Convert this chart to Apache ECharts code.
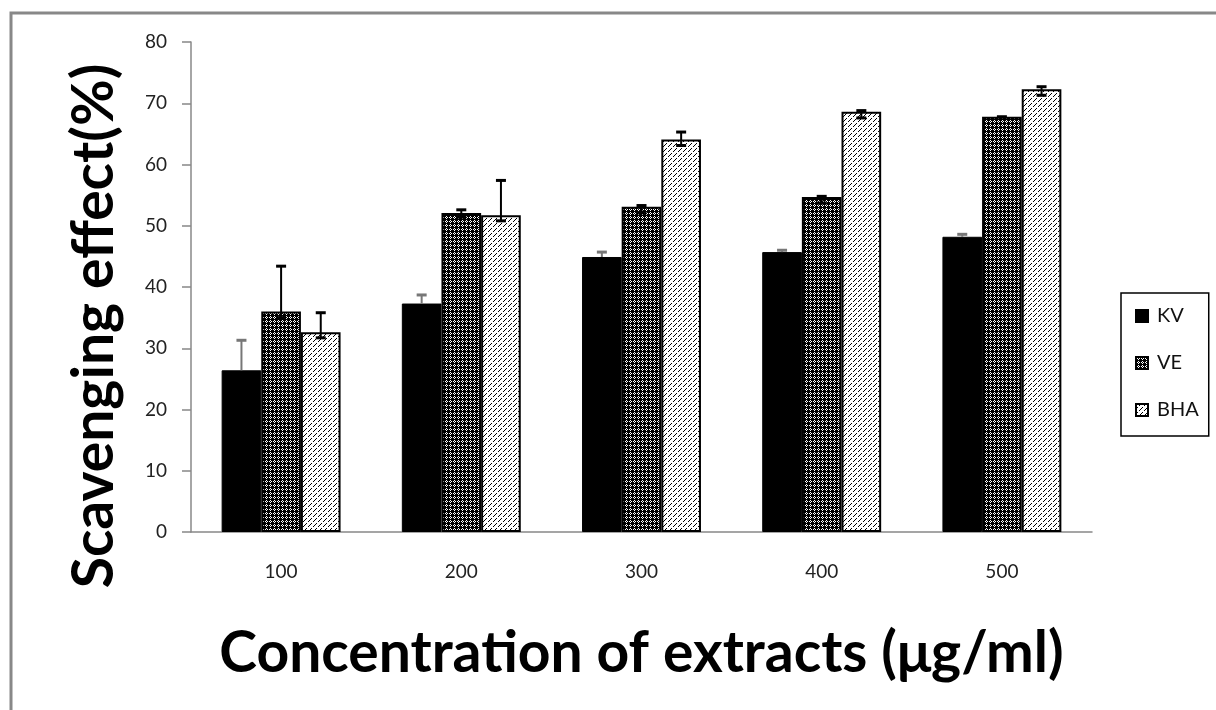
<!DOCTYPE html>
<html><head><meta charset="utf-8">
<script src="https://cdn.jsdelivr.net/npm/echarts@6/dist/echarts.min.js"></script>
<style>html,body{margin:0;padding:0;background:#fff}#c{width:1216px;height:710px}</style>
</head><body><div id="c"></div>
<script>
// ---- data ----
const categories = ['100', '200', '300', '400', '500'];
const seriesNames = ['KV', 'VE', 'BHA'];
const kv  = [26.4, 37.3, 44.9, 45.7, 48.2];
const ve  = [36.0, 52.1, 53.1, 54.7, 67.8];
const bha = [32.6, 51.7, 64.1, 68.6, 72.3];
const kvErrPlus   = [4.9, 1.4, 0.8, 0.3, 0.4];
const kvErrMinus  = [0, 0, 0, 0, 0];
const veErrPlus   = [7.4, 0.5, 0.2, 0.1, 0.0];
const veErrMinus  = [1.0, 0.7, 1.0, 1.0, 0.0];
const bhaErrPlus  = [3.2, 5.7, 1.2, 0.2, 0.4];
const bhaErrMinus = [0.9, 0.9, 1.0, 1.0, 1.0];
const yMin = 0, yMax = 80, yStep = 10;
const xTitle = 'Concentration of extracts (μg/ml)';
const yTitle = 'Scavenging effect(%)';

// ---- patterns ----
function makePattern(rows) {
  const h = rows.length, w = rows[0].length;
  const cv = document.createElement('canvas');
  cv.width = w; cv.height = h;
  const ctx = cv.getContext('2d');
  ctx.fillStyle = '#fff'; ctx.fillRect(0, 0, w, h);
  ctx.fillStyle = '#000';
  for (let y = 0; y < h; y++) for (let x = 0; x < w; x++)
    if (rows[y][x] === 'X') ctx.fillRect(x, y, 1, 1);
  return { image: cv, repeat: 'repeat' };
}
const vePattern = makePattern(['XX.X', 'X.X.', 'XX.X', 'XXXX']);
const bhaPattern = makePattern(['....X', '...X.', '.....', '.X...', 'X....']);

const gapRatio = 0.34;
function errSeries(idx, vals, plus, minus, color) {
  return {
    type: 'custom', name: seriesNames[idx] + '-err', z: 10, silent: true,
    encode: { x: 0, y: [1, 2, 3] },
    data: vals.map((v, i) => [i, v, v + plus[i], v - minus[i]]),
    renderItem(params, api) {
      const c = api.value(0);
      const hi = api.coord([c, api.value(2)]);
      const lo = api.coord([c, api.value(3)]);
      const band = api.size([1, 0])[0];
      const bw = band * (1 - gapRatio) / 3;
      const x = hi[0] + (idx - 1) * bw;
      const cap = 5;
      const st = { stroke: color, lineWidth: 2 };
      const stc = { stroke: color, lineWidth: 3 };
      const kids = [
        { type: 'line', shape: { x1: x, y1: hi[1], x2: x, y2: lo[1] }, style: st },
        { type: 'line', shape: { x1: x - cap, y1: hi[1], x2: x + cap, y2: hi[1] }, style: stc }
      ];
      if (api.value(3) < api.value(1)) {
        kids.push({ type: 'line', shape: { x1: x - cap, y1: lo[1], x2: x + cap, y2: lo[1] }, style: stc });
      }
      return { type: 'group', children: kids };
    }
  };
}

const chart = echarts.init(document.getElementById('c'), null, { renderer: 'canvas' });
chart.setOption({
  backgroundColor: '#fff',
  animation: false,
  textStyle: { fontFamily: 'Lato' },
  graphic: [
    { type: 'polyline', silent: true,
      shape: { points: [[11, 710], [11, 13], [1216, 13]] },
      style: { stroke: '#888', lineWidth: 3, fill: null } },
    { type: 'text', silent: true, x: 95, y: 326, rotation: Math.PI / 2,
      style: { text: yTitle, x: 0, y: 0, align: 'center', verticalAlign: 'middle',
               fill: '#000', font: 'bold 57px Lato' } }
  ],
  grid: { left: 191, right: 124, top: 42, bottom: 178 },
  legend: {
    data: seriesNames,
    orient: 'vertical',
    left: 1121, top: 293,
    padding: [13, 10, 16, 14],
    itemGap: 27, itemWidth: 12, itemHeight: 12,
    borderColor: '#000', borderWidth: 1.5,
    icon: 'rect',
    textStyle: { fontSize: 20, color: '#111', fontFamily: 'Lato', padding: [0, 0, 0, 4] }
  },
  xAxis: {
    type: 'category', data: categories,
    axisLine: { lineStyle: { color: '#888', width: 1.5 } },
    axisTick: { length: 8, lineStyle: { color: '#888', width: 1.5 } },
    axisLabel: { margin: 30, fontSize: 19, color: '#222' },
    name: xTitle,
    nameLocation: 'middle', nameGap: 93,
    nameTextStyle: { fontSize: 57, fontWeight: 'bold', color: '#000', fontFamily: 'Lato' }
  },
  yAxis: {
    type: 'value', min: yMin, max: yMax, interval: yStep,
    axisLine: { show: true, lineStyle: { color: '#888', width: 1.5 } },
    axisTick: { show: true, length: 9, lineStyle: { color: '#888', width: 1.5 } },
    splitLine: { show: false },
    axisLabel: { margin: 24, fontSize: 19, color: '#222' }
  },
  series: [
    { name: 'KV', type: 'bar', data: kv, barGap: '0%', barCategoryGap: (gapRatio * 100) + '%',
      itemStyle: { color: '#000', borderColor: '#000', borderWidth: 1 } },
    { name: 'VE', type: 'bar', data: ve,
      itemStyle: { color: vePattern, borderColor: '#000', borderWidth: 2 } },
    { name: 'BHA', type: 'bar', data: bha,
      itemStyle: { color: bhaPattern, borderColor: '#000', borderWidth: 2 } },
    errSeries(0, kv, kvErrPlus, kvErrMinus, '#777'),
    errSeries(1, ve, veErrPlus, veErrMinus, '#000'),
    errSeries(2, bha, bhaErrPlus, bhaErrMinus, '#000')
  ]
});
</script></body></html>
